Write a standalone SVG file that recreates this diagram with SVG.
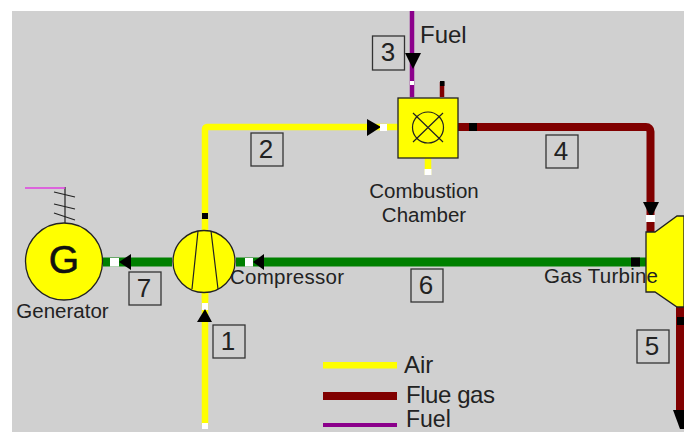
<svg xmlns="http://www.w3.org/2000/svg" width="684" height="432" viewBox="0 0 684 432">
<style>
text{font-family:"Liberation Sans",Arial,sans-serif;fill:#222}
.l{font-size:20.500px}
.n{font-size:26px;text-anchor:middle}
.k{font-size:24px}
.box{fill:#d0d0d0;stroke:#333;stroke-width:1.300}
.eq{fill:#ffff00;stroke:#222;stroke-width:1.300}
.a{fill:none;stroke:#ffff00;stroke-width:6.500}
.f{fill:none;stroke:#800000;stroke-width:8}
.s{fill:none;stroke:#008000;stroke-width:9}
.p{fill:none;stroke:#8b008b;stroke-width:4.500}
.d{fill:none;stroke:#222;stroke-width:1.200}
</style>
<rect width="684" height="432" fill="#fff"/>
<rect x="12" y="11" width="672" height="421" fill="#d0d0d0"/>
<g id="connectors">
<path class="p" d="M412 11V97"/><rect x="410" y="81" width="4" height="4" fill="#fff"/>
<path d="M405 53H421L413 69Z"/>
<path d="M442 97V82" fill="none" stroke="#800000" stroke-width="4.500"/><rect x="440" y="81" width="4.500" height="5"/>
<path class="a" d="M205 300V129a2 2 0 0 1 2-2H398"/>
<rect x="202" y="213" width="6" height="6"/>
<path d="M367 119L381 127L367 136Z"/><rect x="380" y="124" width="7" height="7" fill="#fff"/>
<path class="a" d="M428 158V175"/><rect x="424.500" y="169" width="7" height="6" fill="#fff"/>
<path class="f" d="M458 127H646a4.500 4.500 0 0 1 4.500 4.500V232"/><rect x="469" y="123" width="8" height="8"/>
<path d="M643 202H659L651 218Z"/><rect x="646" y="215" width="9" height="7" fill="#fff"/>
<path class="f" d="M680 300V412"/><rect x="677" y="317" width="7" height="8"/>
<path d="M673 410H684V429H680Z"/>
<path class="s" d="M103 262H172"/><rect x="110" y="258" width="9" height="8.500" fill="#fff"/>
<path d="M119 262L131 254V270Z"/>
<path class="s" d="M236 262H646"/><rect x="245" y="258" width="8" height="8.500" fill="#fff"/>
<path d="M253 262L264 254V270Z"/><rect x="631" y="257.500" width="9" height="9"/>
<path class="a" d="M205 292V425"/><rect x="202" y="303" width="6" height="7" fill="#fff"/>
<path d="M197 322L205 309L212 322Z"/>
<rect x="202" y="423" width="6" height="6" fill="#fff"/>
</g>
<g id="chamber">
<rect class="eq" x="398" y="98" width="60" height="60"/>
<circle class="d" cx="428" cy="127.500" r="15.500"/>
<path class="d" d="M413 113L443 142M443 113L413 142"/>
<text class="l" x="424" y="198" text-anchor="middle">Combustion</text>
<text class="l" x="424" y="222" text-anchor="middle">Chamber</text>
</g>
<g id="generator">
<circle class="eq" cx="64" cy="261.500" r="38.500"/>
<path d="M65 223V187" stroke="#222" stroke-width="1.200"/>
<path d="M25 188H65" stroke="#e040e0" stroke-width="1.500"/>
<path class="d" d="M54 192L75 197M54 204L75 209M54 213L75 220"/>
<text x="64" y="273" font-size="39" text-anchor="middle" style="fill:#111;stroke:#111;stroke-width:.6">G</text>
<text class="l" x="62.500" y="318" text-anchor="middle">Generator</text>
</g>
<g id="compressor">
<circle class="eq" cx="204" cy="261.500" r="31"/>
<path class="d" d="M198 231L192 289M211 231L218 289"/>
<text class="l" x="230" y="284" textLength="114">Compressor</text>
</g>
<g id="turbine">
<path class="eq" d="M646 232H655L677 216H684V307H677L655 292H646Z"/>
<text class="l" x="544" y="283" textLength="114">Gas Turbine</text>
</g>
<g id="labels">
<rect class="box" x="372.500" y="36" width="32" height="34"/><text class="n" x="388" y="61">3</text>
<rect class="box" x="251" y="133" width="32" height="33"/><text class="n" x="266" y="158">2</text>
<rect class="box" x="546" y="135" width="32" height="33"/><text class="n" x="561" y="160">4</text>
<rect class="box" x="129" y="272" width="32" height="33"/><text class="n" x="144" y="297">7</text>
<rect class="box" x="411" y="269" width="32" height="33"/><text class="n" x="426" y="294">6</text>
<rect class="box" x="213" y="325" width="32" height="33"/><text class="n" x="228" y="350">1</text>
<rect class="box" x="637" y="330" width="32" height="33"/><text class="n" x="652" y="355">5</text>
<text class="k" x="420" y="43">Fuel</text>
</g>
<g id="legend">
<rect x="323" y="362" width="74" height="6.500" fill="#ffff00"/>
<rect x="323" y="392" width="74" height="8" fill="#800000"/>
<rect x="323" y="423" width="74" height="4" fill="#8b008b"/>
<text class="k" x="404" y="373">Air</text>
<text class="k" x="406" y="403" textLength="89">Flue gas</text>
<text x="406" y="427" font-size="23">Fuel</text>
</g>
</svg>
